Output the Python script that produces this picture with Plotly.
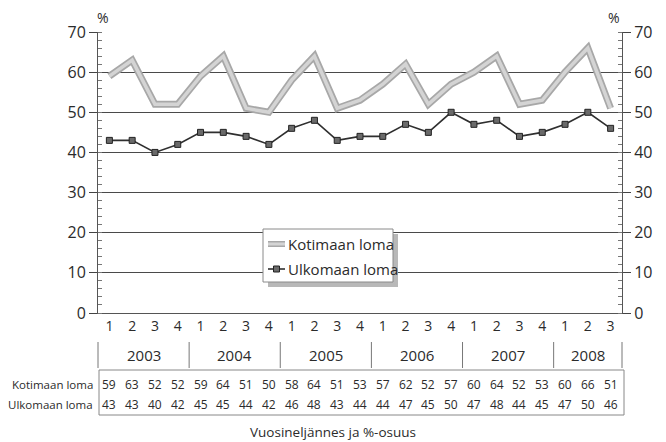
import plotly.graph_objects as go

quarters = ["1", "2", "3", "4"] * 5 + ["1", "2", "3"]
years = ["2003", "2004", "2005", "2006", "2007", "2008"]
year_counts = [4, 4, 4, 4, 4, 3]
kotimaan = [59, 63, 52, 52, 59, 64, 51, 50, 58, 64, 51, 53, 57, 62, 52, 57, 60, 64, 52, 53, 60, 66, 51]
ulkomaan = [43, 43, 40, 42, 45, 45, 44, 42, 46, 48, 43, 44, 44, 47, 45, 50, 47, 48, 44, 45, 47, 50, 46]
series_names = ["Kotimaan loma", "Ulkomaan loma"]

# page body has an 8px margin: shrink the figure so it fits the 666x442 window
OFF = 8
W, H = 666 - OFF, 442 - OFF
# plot area in window pixels
L, R, T, B = 98, 622, 32, 313
FONT = "Open Sans"
TXT = "#2b2b2b"
n = len(quarters)
x = list(range(n))

def px2x(px):
    return (px - L) / (R - L)

def py2y(py):
    return (B - py) / (B - T)

def cat2x(i):
    return (i + 0.5) / n

K_OUT, K_IN = "#a8a8a8", "#d4d4d4"
U_LINE, U_MARK, U_MARK_EDGE = "#2f2f2f", "#6a6a6a", "#222"

fig = go.Figure()
fig.add_trace(go.Scatter(x=x, y=kotimaan, mode="lines", line=dict(color=K_OUT, width=7),
                         showlegend=False, hoverinfo="skip"))
fig.add_trace(go.Scatter(x=x, y=kotimaan, mode="lines", line=dict(color=K_IN, width=3.5),
                         name=series_names[0], showlegend=False))
fig.add_trace(go.Scatter(x=x, y=ulkomaan, mode="lines+markers", name=series_names[1],
                         line=dict(color=U_LINE, width=1.6), showlegend=False,
                         marker=dict(symbol="square", size=6, color=U_MARK,
                                     line=dict(color=U_MARK_EDGE, width=1))))
fig.add_trace(go.Scatter(x=[0], y=[0], yaxis="y2", mode="markers", marker=dict(opacity=0),
                         showlegend=False, hoverinfo="skip"))

shapes = []
annotations = []

# Legend box with shadow (drawn manually)
lx0, lx1, ly0, ly1 = 263, 393, 229, 282
shapes.append(dict(type="rect", xref="paper", yref="paper", layer="above",
                   x0=px2x(lx0 + 5), x1=px2x(lx1 + 5), y0=py2y(ly1 + 5), y1=py2y(ly0 + 5),
                   fillcolor="#b8b8b8", line=dict(width=0)))
shapes.append(dict(type="rect", xref="paper", yref="paper", layer="above",
                   x0=px2x(lx0), x1=px2x(lx1), y0=py2y(ly1), y1=py2y(ly0),
                   fillcolor="white", line=dict(color="#8a8a8a", width=1)))
leg_y = [244, 269]
# sample 1: thick gray line
shapes.append(dict(type="line", xref="paper", yref="paper", layer="above",
                   x0=px2x(268), x1=px2x(285), y0=py2y(leg_y[0]), y1=py2y(leg_y[0]),
                   line=dict(color=K_OUT, width=6)))
shapes.append(dict(type="line", xref="paper", yref="paper", layer="above",
                   x0=px2x(268), x1=px2x(285), y0=py2y(leg_y[0]), y1=py2y(leg_y[0]),
                   line=dict(color=K_IN, width=3)))
# sample 2: line with square marker
shapes.append(dict(type="line", xref="paper", yref="paper", layer="above",
                   x0=px2x(268), x1=px2x(285), y0=py2y(leg_y[1]), y1=py2y(leg_y[1]),
                   line=dict(color=U_LINE, width=1.6)))
shapes.append(dict(type="rect", xref="paper", yref="paper", layer="above",
                   x0=px2x(273.5), x1=px2x(279.5), y0=py2y(leg_y[1] + 3), y1=py2y(leg_y[1] - 3),
                   fillcolor=U_MARK, line=dict(color=U_MARK_EDGE, width=1)))
for name, ly in zip(series_names, leg_y):
    annotations.append(dict(xref="paper", yref="paper", x=px2x(286), y=py2y(ly), text=name,
                            showarrow=False, xanchor="left", yanchor="middle",
                            font=dict(family=FONT, size=15, color=TXT)))

# Year separators and labels
start = 0
for yr, cnt in zip(years, year_counts):
    shapes.append(dict(type="line", xref="paper", yref="paper",
                       x0=cat2x(start - 0.5), x1=cat2x(start - 0.5), y0=py2y(342), y1=py2y(368),
                       line=dict(color="#777", width=1)))
    annotations.append(dict(xref="paper", yref="paper", x=cat2x(start + (cnt - 1) / 2), y=py2y(355),
                            text=yr, showarrow=False, font=dict(family=FONT, size=15, color=TXT),
                            xanchor="center", yanchor="middle"))
    start += cnt
shapes.append(dict(type="line", xref="paper", yref="paper",
                   x0=cat2x(n - 0.5), x1=cat2x(n - 0.5), y0=py2y(342), y1=py2y(368),
                   line=dict(color="#777", width=1)))

# Table box
shapes.append(dict(type="rect", xref="paper", yref="paper",
                   x0=px2x(99), x1=px2x(624), y0=py2y(415), y1=py2y(370),
                   line=dict(color="#888", width=1)))

row_y = [384, 404]
for name, vals, ry in zip(series_names, [kotimaan, ulkomaan], row_y):
    annotations.append(dict(xref="paper", yref="paper", x=px2x(95), y=py2y(ry), text=name,
                            showarrow=False, xanchor="right", yanchor="middle",
                            font=dict(family=FONT, size=11.5, color=TXT)))
    for i, v in enumerate(vals):
        annotations.append(dict(xref="paper", yref="paper", x=cat2x(i), y=py2y(ry), text=str(v),
                                showarrow=False, xanchor="center", yanchor="middle",
                                font=dict(family=FONT, size=12, color=TXT)))

annotations.append(dict(xref="paper", yref="paper", x=px2x(333), y=py2y(432),
                        text="Vuosineljännes ja %-osuus", showarrow=False,
                        xanchor="center", yanchor="middle", font=dict(family=FONT, size=13.5, color=TXT)))
annotations.append(dict(xref="paper", yref="paper", x=px2x(103), y=py2y(18), text="%",
                        showarrow=False, xanchor="center", yanchor="middle",
                        font=dict(family=FONT, size=14, color=TXT)))
annotations.append(dict(xref="paper", yref="paper", x=px2x(614), y=py2y(18), text="%",
                        showarrow=False, xanchor="center", yanchor="middle",
                        font=dict(family=FONT, size=14, color=TXT)))

yaxis_common = dict(range=[0, 70], dtick=10, tick0=0, ticks="outside", ticklen=8, tickcolor="#444",
                    showline=True, linecolor="#555", linewidth=1,
                    tickfont=dict(family=FONT, size=16, color=TXT),
                    minor=dict(dtick=2, ticks="inside", ticklen=4, tickcolor="#777", showgrid=False),
                    zeroline=False, fixedrange=True)

fig.update_layout(
    width=W, height=H,
    margin=dict(l=L - OFF, r=666 - R, t=T - OFF, b=442 - B, autoexpand=False),
    paper_bgcolor="white", plot_bgcolor="white",
    font=dict(family=FONT, color=TXT),
    showlegend=False,
    xaxis=dict(range=[-0.5, n - 0.5], tickmode="array", tickvals=x, ticktext=quarters,
               ticks="", showline=True, linecolor="#555", linewidth=1.2, showgrid=False,
               zeroline=False, tickfont=dict(family=FONT, size=14, color=TXT)),
    yaxis=dict(**yaxis_common, side="left", showgrid=True, gridcolor="#4a4a4a", gridwidth=1),
    yaxis2=dict(**yaxis_common, side="right", overlaying="y", showgrid=False),
    shapes=shapes,
    annotations=annotations,
)

fig.write_html("out.html")
